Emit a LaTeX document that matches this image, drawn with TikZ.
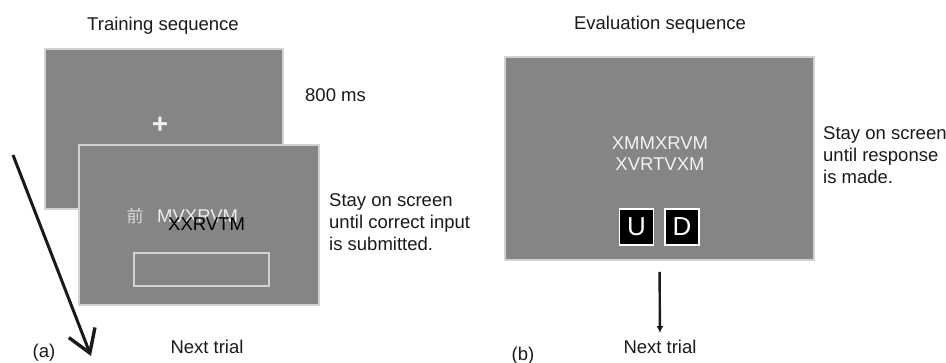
\documentclass[tikz,border=0pt]{standalone}
\usepackage{fontspec}
\setmainfont{Liberation Sans}
\newfontfamily\cjk{Noto Sans CJK SC}
\usetikzlibrary{arrows.meta}
\definecolor{screengray}{HTML}{858585}
\definecolor{rimgray}{HTML}{D2D2D2}
\definecolor{ink}{HTML}{1A1A1A}
\tikzset{
  screen/.style={draw=rimgray, line width=1.6pt, fill=screengray, inner sep=0pt},
  lbl/.style={text=ink, inner sep=0pt, font=\fontsize{18.5}{22}\selectfont},
  side/.style={lbl, anchor=west, align=left},
  stim/.style={inner sep=0pt, font=\fontsize{18.5}{21}\selectfont},
  keybox/.style={draw=white, line width=1.8pt, fill=black, text=white,
    minimum width=34pt, minimum height=36pt, inner sep=0pt,
    font=\fontsize{26}{26}\selectfont},
  entry/.style={draw=rimgray, line width=2.2pt, minimum width=135pt,
    minimum height=33pt, inner sep=0pt},
}
\begin{document}
\begin{tikzpicture}[x=1pt,y=-1pt]
\useasboundingbox (0,0) rectangle (946,363);

% ---- training sequence ----
\node[lbl] (ttitle) at (163,26) {Training sequence};
\node[screen, minimum width=238pt, minimum height=160pt] (fix) at (164,129) {};
\node[text=white!94!black, inner sep=0pt, font=\fontsize{28}{28}\selectfont\bfseries] (plus) at (160,125) {+};
\node[lbl, anchor=west] (dur) at (305,95) {800 ms};

\node[screen, minimum width=240pt, minimum height=160pt] (study) at (199,225) {};
\node[inner sep=0pt, text=white!85!black, font=\cjk\fontsize{17}{17}\selectfont] (hanzi) at (135,216) {前};
\node[stim, text=white!93!black, anchor=west] (target) at (157,216) {MVXRVM};
\node[stim, text=black, anchor=west] (typed) at (168,224) {XXRVTM};
\node[entry] (input) at (201.5,269.5) {};
\node[side] (tnote) at (329,222) {Stay on screen\\until correct input\\is submitted.};

\coordinate (astart) at (13,155);
\coordinate (aend) at (91,356);
\draw[line width=3pt, ink, -{Straight Barb[length=22pt,width=28pt,line width=3.4pt]}] (astart) -- (aend);
\node[lbl] (anext) at (207,347) {Next trial};
\node[lbl] (alabel) at (44,353) {(a)};

% ---- evaluation sequence ----
\node[lbl] (etitle) at (660,25) {Evaluation sequence};
\node[screen, minimum width=309pt, minimum height=203pt] (eval) at (659.5,158.5) {};
\node[stim, text=white!95!black] (pair1) at (660,143) {XMMXRVM};
\node[stim, text=white!95!black] (pair2) at (660,164) {XVRTVXM};
\node[keybox] (up) at (636.5,227) {U};
\node[keybox] (down) at (682,227) {D};
\node[side] (enote) at (823,155) {Stay on screen\\until response\\is made.};

\node[lbl] (bnext) at (660,347) {Next trial};
\node[lbl] (blabel) at (523,356) {(b)};
\draw[line width=2.4pt, ink, -{Latex[length=7pt,width=7pt]}, shorten <=11pt, shorten >=7pt] (eval.south) -- (bnext.north);
\end{tikzpicture}
\end{document}
